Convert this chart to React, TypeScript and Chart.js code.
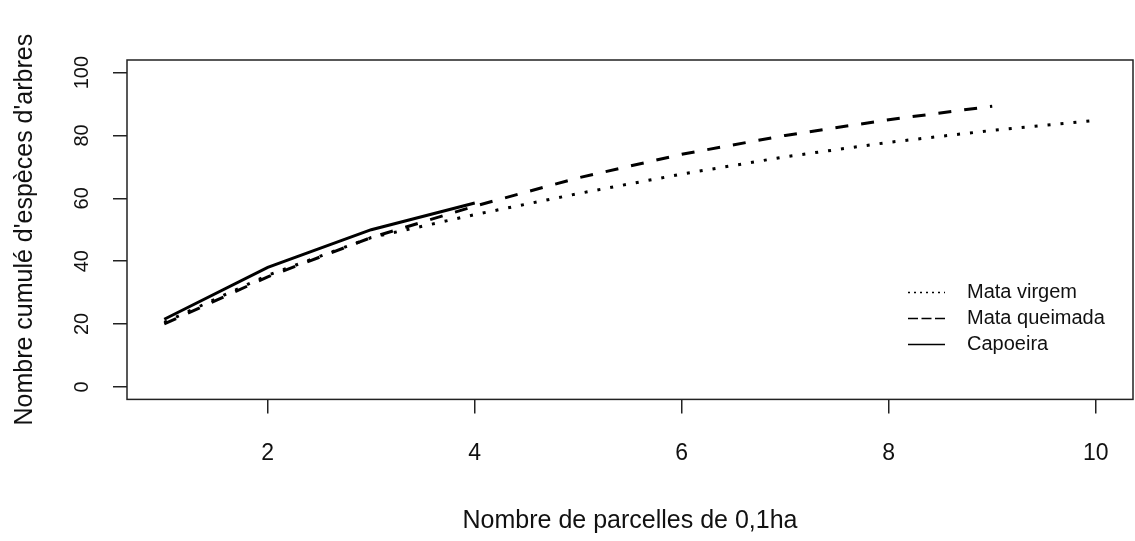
import React, { useEffect, useRef } from "react";
import { Chart, registerables } from "chart.js";

Chart.register(...registerables);

// ---- data ----
const parcelles = [1, 2, 3, 4, 5, 6, 7, 8, 9, 10];
const mataVirgem = [20.5, 35.5, 47.5, 54.8, 61.5, 67.7, 73.2, 77.8, 81.6, 84.8];
const mataQueimada = [20, 35, 47.5, 57.5, 66.5, 74, 80, 85, 89.3];
const capoeira = [21.5, 38, 50, 58.5];
const seriesNames = ["Mata virgem", "Mata queimada", "Capoeira"];
const xTicks = [2, 4, 6, 8, 10];
const yTicks = [0, 20, 40, 60, 80, 100];
const xTitle = "Nombre de parcelles de 0,1ha";
const yTitle = "Nombre cumulé d'espèces d'arbres";

const FONT = "'Liberation Sans', Arial, sans-serif";
const INK = "#111";

const toPoints = (vals: number[]) => vals.map((v, i) => ({ x: parcelles[i], y: v }));

const legendDash: number[][] = [[2, 4], [10, 3.5], []];

const rPlotPlugin = {
  id: "rPlot",
  afterDraw(chart: any) {
    const { ctx, chartArea: a, scales } = chart;
    ctx.save();
    // plot box
    ctx.setLineDash([]);
    ctx.strokeStyle = "#222";
    ctx.lineWidth = 1.5;
    ctx.strokeRect(a.left, a.top, a.right - a.left, a.bottom - a.top);

    // vertical y tick labels (R style)
    const ys = scales.y;
    ctx.fillStyle = INK;
    ctx.font = `20px ${FONT}`;
    ctx.textAlign = "center";
    ctx.textBaseline = "middle";
    ys.ticks.forEach((t: any) => {
      const py = ys.getPixelForValue(t.value);
      ctx.save();
      ctx.translate(a.left - 45, py);
      ctx.rotate(-Math.PI / 2);
      ctx.fillText(String(t.value), 0, 0);
      ctx.restore();
    });

    // legend (no box), bottom-right inside the plot
    const rowY = [a.bottom - 107, a.bottom - 81, a.bottom - 55];
    const sx0 = a.right - 225;
    const sx1 = a.right - 188;
    const tx = a.right - 166;
    ctx.textAlign = "left";
    chart.data.datasets.forEach((ds: any, i: number) => {
      ctx.save();
      ctx.strokeStyle = "#000";
      ctx.lineWidth = 1.5;
      ctx.setLineDash(legendDash[i]);
      ctx.beginPath();
      ctx.moveTo(sx0, rowY[i]);
      ctx.lineTo(sx1, rowY[i]);
      ctx.stroke();
      ctx.restore();
      ctx.fillStyle = INK;
      ctx.font = `20px ${FONT}`;
      ctx.fillText(ds.label, tx, rowY[i]);
    });
    ctx.restore();
  },
};

export default function App() {
  const ref = useRef<HTMLCanvasElement>(null);

  useEffect(() => {
    if (!ref.current) return;
    const common = {
      borderColor: "#000",
      borderWidth: 3,
      pointRadius: 0,
      fill: false,
      tension: 0,
      borderCapStyle: "butt" as const,
    };
    const chart = new Chart(ref.current, {
      type: "line",
      data: {
        datasets: [
          { ...common, label: seriesNames[0], data: toPoints(mataVirgem), borderDash: [3, 10] },
          { ...common, label: seriesNames[1], data: toPoints(mataQueimada), borderDash: [13, 13] },
          { ...common, label: seriesNames[2], data: toPoints(capoeira), borderDash: [] },
        ],
      },
      options: {
        responsive: false,
        animation: false,
        devicePixelRatio: 1,
        layout: { padding: { left: 10, top: 60, right: 2, bottom: 5 } },
        plugins: { legend: { display: false }, tooltip: { enabled: false } },
        scales: {
          x: {
            type: "linear",
            min: 0.64,
            max: 10.36,
            afterBuildTicks: (s: any) => {
              s.ticks = xTicks.map((v) => ({ value: v }));
            },
            ticks: {
              font: { size: 23, family: FONT },
              color: INK,
              padding: 26,
              maxRotation: 0,
              autoSkip: false,
            },
            grid: { drawOnChartArea: false, drawTicks: true, tickLength: 14, color: "#222", lineWidth: 1.5 },
            border: { display: false },
            title: {
              display: true,
              text: xTitle,
              font: { size: 25, family: FONT },
              color: INK,
              padding: { top: 13, bottom: 0 },
            },
          },
          y: {
            type: "linear",
            min: -4,
            max: 104,
            afterBuildTicks: (s: any) => {
              s.ticks = yTicks.map((v) => ({ value: v }));
            },
            ticks: { display: false },
            grid: { drawOnChartArea: false, drawTicks: true, tickLength: 14, color: "#222", lineWidth: 1.5 },
            border: { display: false },
            title: {
              display: true,
              text: yTitle,
              font: { size: 25, family: FONT },
              color: INK,
              padding: { top: 0, bottom: 73 },
            },
          },
        },
      } as any,
      plugins: [rPlotPlugin],
    });
    return () => chart.destroy();
  }, []);

  return (
    <div style={{ position: "fixed", left: 0, top: 0, width: 1135, height: 541, background: "#fff" }}>
      <canvas ref={ref} width={1135} height={541} style={{ display: "block", width: 1135, height: 541 }} />
    </div>
  );
}
